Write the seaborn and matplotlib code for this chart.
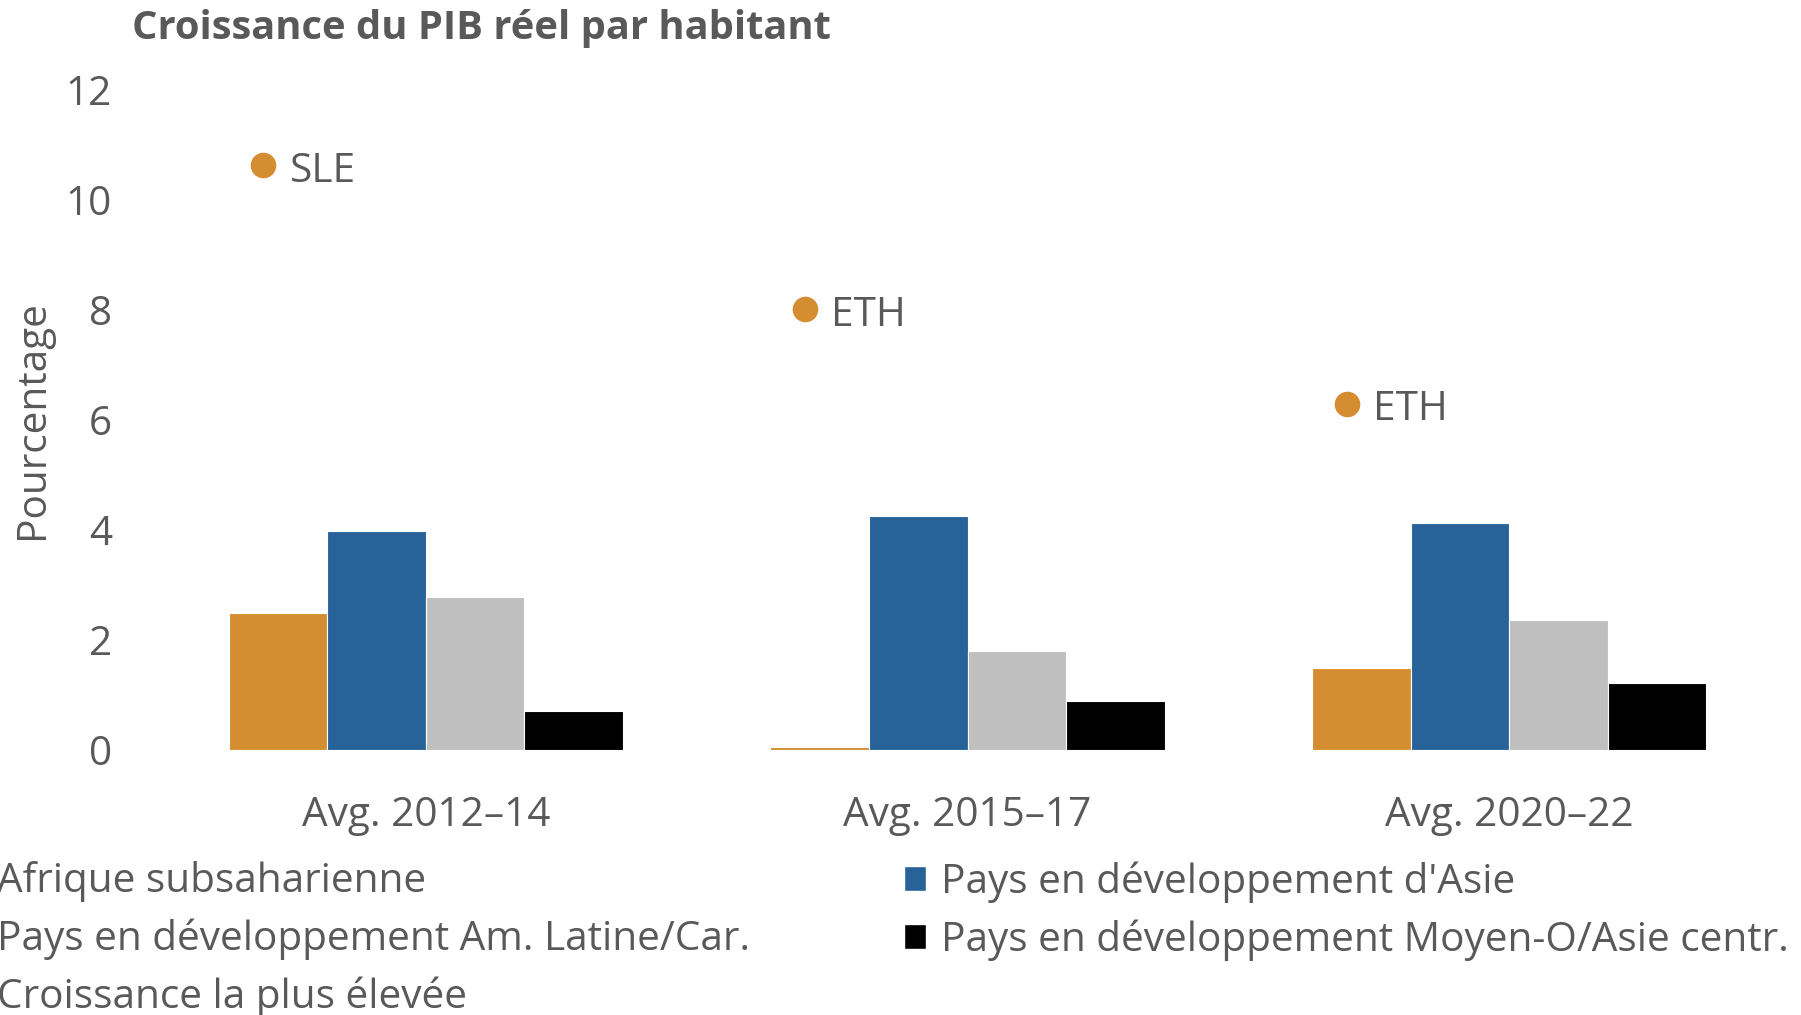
import numpy as np
import pandas as pd
import matplotlib
matplotlib.use("Agg")
import matplotlib.pyplot as plt
import seaborn as sns
from matplotlib.patches import Patch
from matplotlib.lines import Line2D

# ---- data ----
periods = ["Avg. 2012–14", "Avg. 2015–17", "Avg. 2020–22"]
series = ["Afrique subsaharienne", "Pays en développement d'Asie",
          "Pays en développement Am. Latine/Car.", "Pays en développement Moyen-O/Asie centr."]
ssa = [2.50, 0.05, 1.50]
asia = [3.98, 4.25, 4.12]
latam = [2.79, 1.80, 2.36]
mena = [0.71, 0.90, 1.21]
top_values = [10.63, 8.01, 6.30]
top_labels = ["SLE", "ETH", "ETH"]
highest_label = "Croissance la plus élevée"
yticks = [0, 2, 4, 6, 8, 10, 12]

colors = ["#D48E31", "#276398", "#BFBFBF", "#000000"]
text_color = "#595959"
FS = 29.2

sns.set_theme(style="white")
plt.rcParams["font.family"] = ["Open Sans", "DejaVu Sans"]

df = pd.DataFrame({
    "period": periods * 4,
    "series": sum([[s] * 3 for s in series], []),
    "value": ssa + asia + latam + mena,
})

W, H = 1801, 1015
fig = plt.figure(figsize=(W / 100, H / 100), dpi=100)
ax = fig.add_axes([155 / W, 1 - 750 / H, 1625 / W, 660 / H])

sns.barplot(data=df, x="period", y="value", hue="series", order=periods,
            hue_order=series, palette=colors, saturation=1, width=0.728, gap=0,
            linewidth=0.8, edgecolor="white", legend=False, ax=ax)

pos = np.arange(len(periods)) - 0.30
sns.scatterplot(x=pos, y=top_values, color=colors[0], s=340, linewidth=0,
                ax=ax, legend=False, zorder=5)
for x, y, lab in zip(pos, top_values, top_labels):
    ax.annotate(lab, (x, y), xytext=(19, -4.5), textcoords="offset points",
                ha="left", va="center", fontsize=FS, color=text_color)

ax.set_xlim(-0.5, 2.5)
ax.set_ylim(0, 12)
ax.set_yticks(yticks)
ax.set_yticklabels([str(t) for t in yticks])
ax.tick_params(axis="y", length=0, pad=31, labelsize=FS, labelcolor=text_color)
ax.tick_params(axis="x", length=0, pad=32.5, labelsize=FS, labelcolor=text_color)
ax.set_xlabel("")
ax.set_ylabel("Pourcentage", fontsize=FS, color=text_color)
ax.yaxis.label.set_va("center")
ax.yaxis.set_label_coords((33 - 155) / 1625, 0.5)
for sp in ax.spines.values():
    sp.set_visible(False)
ax.grid(False)

fig.text(132 / W, 1 - 29 / H, "Croissance du PIB réel par habitant",
         ha="left", va="center", fontsize=28.7, fontweight="bold", color=text_color)

# legend, two columns (left column is clipped by the figure edge as in the reference)
h_ssa = Patch(facecolor=colors[0])
h_lat = Patch(facecolor=colors[2])
h_top = Line2D([], [], marker="o", color=colors[0], linestyle="none", markersize=14)
h_asia = Patch(facecolor=colors[1])
h_mena = Patch(facecolor=colors[3])
HL, HTP = 0.55, 0.37
common = dict(frameon=False, fontsize=FS, labelcolor=text_color, borderpad=0,
              borderaxespad=0, handlelength=HL, handleheight=0.55,
              handletextpad=HTP, labelspacing=0.40, loc="upper left")
fs_px = FS * 100 / 72
off = (HL + HTP) * fs_px
leg1 = fig.legend([h_ssa, h_lat, h_top], [series[0], series[2], highest_label],
                  bbox_to_anchor=((-3 - off) / W, 1 - 861.5 / H), **common)
leg2 = fig.legend([h_asia, h_mena], [series[1], series[3]],
                  bbox_to_anchor=((941 - off) / W, 1 - 861.5 / H), **common)

fig.savefig("out.png", dpi=100)
